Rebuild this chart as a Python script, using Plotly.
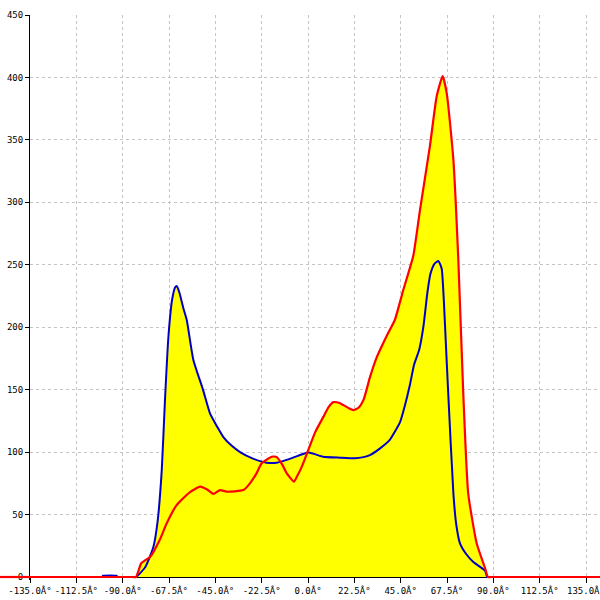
import plotly.graph_objects as go

# Red series (angle in degrees, count)
red_x = [-135, -125, -115, -105, -95, -88, -85, -83.5, -81, -79, -76.7, -71.9, -68.6, -63.8,
         -57.3, -52.4, -49, -46, -42.7, -39.5,
         -31.4, -28.2, -25, -22.5, -17.6, -15.2, -12.5, -10.3, -6.8, -5.5, -3.1, 0.2, 3.5, 7.4,
         10, 12.3, 15, 17.1, 20, 22, 24.5, 27, 30.1, 33.4, 38.2, 42.2, 46.3, 51.1, 54.4, 59.2,
         62.5, 65.4, 67.4, 70.6, 73, 75.4, 77.8, 81.9, 86, 87.4, 89, 95, 105, 115, 125, 135, 141.8]
red_y = [0, 0, 0, 0, 0, 0, 0, 0, 11, 13.5, 16, 30, 43, 57.6,
         68, 72.3, 70, 66.5, 69.6, 68.3,
         69.6, 75, 83, 91, 96.3, 96, 90, 83, 76.3, 80, 88, 102, 116, 128,
         136, 140, 139.5, 137.7, 135, 133.7, 135.5, 142, 160, 176, 193, 206, 230, 257, 294, 345,
         385, 401, 387, 334, 254, 147, 67, 27, 7, 0, 0, 0, 0, 0, 0, 0, 0]

# Blue series
blue_x = [-135, -125, -115, -105, -101, -100, -99.5, -93, -92.5, -91.5, -88, -85, -83.5, -79,
          -75.1, -73, -71, -69.5, -67.8, -66, -64.5,
          -63.8, -62.5, -60.5, -58.9, -55.7, -51, -47.6, -44, -41.1, -37, -33, -27, -20.1, -15.2,
          -10, -5, -0.6, 1, 4, 7.4, 15.5, 22.8, 27, 30.1, 35, 39.8, 44.7, 47, 49.5, 51.5, 54,
          56, 58, 59.5, 61.5, 63.3, 64.9, 66, 67, 68.1, 70.6, 72, 73.8, 77, 80.3, 86, 87, 88.5,
          95, 105, 115, 125, 135, 141.8]
blue_y = [0, 0, 0, 0, 0, 0, 1, 1, 0, 0, 0, 0, 0, 8,
          24, 45, 86, 140, 192, 222, 232,
          233, 228, 215, 206, 174, 150, 131, 120, 112, 105, 100, 95, 91.5, 91.5,
          94, 97, 99.5, 99.5, 98, 96.3, 95.5, 95, 96, 97.6, 103, 110, 124, 137, 154, 170, 182,
          200, 228, 243, 251, 253, 247, 220, 185, 147, 67, 42, 27, 18, 12, 5, 0, 0,
          0, 0, 0, 0, 0, 0]

x_ticks = [-135 + 22.5 * i for i in range(13)]
x_tick_text = [f"{v:.1f}Â°" for v in x_ticks]
y_ticks = list(range(0, 451, 50))

line_shape = dict(shape="spline", smoothing=0.5)

fig = go.Figure()
fig.add_trace(go.Scatter(x=red_x, y=red_y, mode="lines", fill="tozeroy",
                         fillcolor="#ffff00", line=dict(width=0, **line_shape),
                         hoverinfo="skip", showlegend=False))
fig.add_trace(go.Scatter(x=blue_x, y=blue_y, mode="lines", fill="tozeroy",
                         fillcolor="#ffff00", line=dict(width=0, **line_shape),
                         hoverinfo="skip", showlegend=False))
fig.add_trace(go.Scatter(x=blue_x, y=blue_y, mode="lines",
                         line=dict(color="#0000c8", width=2, **line_shape), showlegend=False))
fig.add_trace(go.Scatter(x=red_x, y=red_y, mode="lines",
                         line=dict(color="#ff0000", width=2.2, **line_shape), showlegend=False))

# red baseline continuing left of the y axis
fig.add_shape(type="line", xref="paper", yref="y", x0=-30 / 570, x1=0, y0=0, y1=0,
              line=dict(color="#ff0000", width=2.2))

tick_font = dict(family="DejaVu Sans Mono", size=9, color="#000000")
fig.update_layout(
    width=600, height=600,
    margin=dict(l=30, r=0, t=15, b=20, autoexpand=False),
    paper_bgcolor="white", plot_bgcolor="white",
    xaxis=dict(range=[-135, 141.8], tickvals=x_ticks, ticktext=x_tick_text,
               showgrid=True, gridcolor="#c4c4c4", griddash="3px,3px", gridwidth=1,
               showline=True, linecolor="black", linewidth=1,
               ticks="outside", ticklen=5, tickcolor="black",
               anchor="free", position=2.4 / 452.4, layer="below traces",
               zeroline=False, tickfont=tick_font, automargin=False,
               ticklabeloverflow="allow"),
    yaxis=dict(range=[-2.4, 450], tickvals=y_ticks,
               showgrid=True, gridcolor="#c4c4c4", griddash="3px,3px", gridwidth=1,
               showline=True, linecolor="black", linewidth=1,
               ticks="outside", ticklen=4, tickcolor="black",
               zeroline=False, tickfont=tick_font, automargin=False,
               ticklabeloverflow="allow"),
)

fig.write_html("out.html", config={"displayModeBar": False},
               post_script="document.body.style.margin='0';document.body.style.overflow='hidden';")
